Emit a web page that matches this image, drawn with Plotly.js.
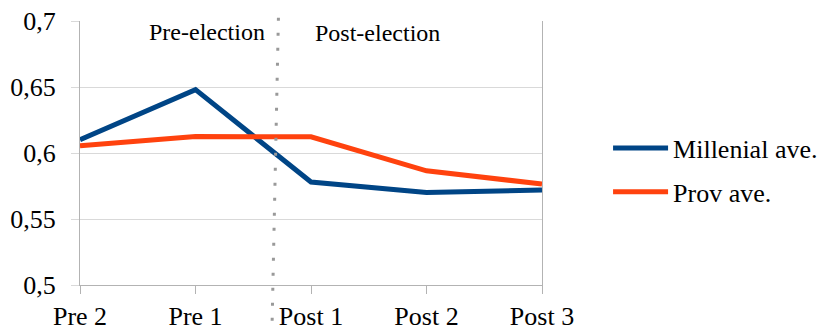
<!DOCTYPE html>
<html><head><meta charset="utf-8">
<script src="https://cdn.plot.ly/plotly-3.0.1.min.js"></script>
<style>body{margin:0;background:#fff}#c{width:823px;height:334px}</style>
</head><body><div id="c"></div>
<script>
const categories = ["Pre 2", "Pre 1", "Post 1", "Post 2", "Post 3"];
const millenial = [0.610, 0.648, 0.578, 0.570, 0.572];
const prov = [0.6055, 0.6125, 0.6123, 0.5865, 0.5765];
const yTicks = [0.5, 0.55, 0.6, 0.65, 0.7];
const yTickText = ["0,5", "0,55", "0,6", "0,65", "0,7"];

const FAM = "Liberation Serif";
function f(size) { return {family: FAM, size: size, color: "#000"}; }
const traces = [
  {x: categories, y: millenial, name: "Millenial ave.", mode: "lines", legendgroup: "a",
   line: {color: "#004586", width: 5}},
  {x: categories, y: prov, name: "Prov ave.", mode: "lines", legendgroup: "b",
   line: {color: "#ff420e", width: 5}}
];
const layout = {
  width: 823, height: 334,
  margin: {l: 80, r: 281, t: 21, b: 49, autoexpand: false},
  paper_bgcolor: "#fff", plot_bgcolor: "#fff",
  font: f(26),
  showlegend: true,
  legend: {x: 1.143, y: 0.435, xanchor: "left", yanchor: "middle",
           font: f(26), itemwidth: 55, traceorder: "grouped", tracegroupgap: 7},
  xaxis: {type: "category", range: [0, 4], showgrid: false, zeroline: false,
          showline: true, linecolor: "#b3b3b3", linewidth: 1, automargin: false,
          ticks: "outside", ticklen: 8, tickcolor: "#b3b3b3",
          tickfont: f(26)},
  yaxis: {range: [0.5, 0.7], tickvals: yTicks, ticktext: yTickText,
          showgrid: true, gridcolor: "#d9d9d9", zeroline: false, automargin: false,
          showline: true, mirror: true, linecolor: "#b3b3b3", linewidth: 1,
          ticks: "outside", ticklen: 8, tickcolor: "#d9d9d9",
          ticklabelstandoff: 10, tickfont: f(26)},
  shapes: [{type: "line", xref: "x", yref: "paper",
            x0: 1.718, y0: 1.012, x1: 1.662, y1: -0.17,
            line: {color: "#999999", width: 3, dash: "3px,12px"}}],
  annotations: [
    {text: "Pre-election", xref: "x", yref: "paper", x: 1.103, y: 0.958,
     yanchor: "middle", showarrow: false, font: f(24)},
    {text: "Post-election", xref: "x", yref: "paper", x: 2.576, y: 0.955,
     yanchor: "middle", showarrow: false, font: f(24)}
  ]
};
Plotly.newPlot("c", traces, layout, {displayModeBar: false, staticPlot: true});
</script></body></html>
